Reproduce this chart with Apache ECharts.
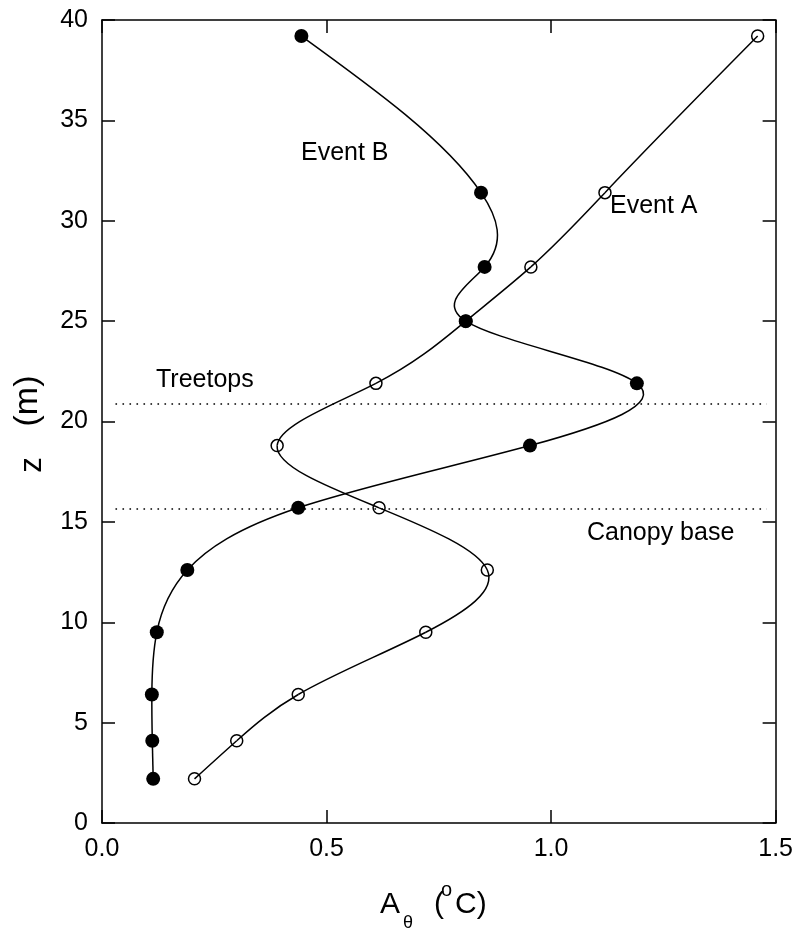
<!DOCTYPE html>
<html>
<head>
<meta charset="utf-8">
<script src="https://cdn.jsdelivr.net/npm/echarts@6/dist/echarts.min.js"></script>
<style>
  html, body { margin: 0; padding: 0; background: #fff; }
  #main { width: 796px; height: 931px; }
</style>
</head>
<body>
<div id="main"></div>
<script>
  // heights of the measurement levels (m)
  var heights = [39.2, 31.4, 27.7, 25.0, 21.9, 18.8, 15.7, 12.6, 9.5, 6.4, 4.1, 2.2];
  // amplitude A_theta (oC) for each event
  var eventA = [1.46, 1.12, 0.955, 0.81, 0.61, 0.39, 0.617, 0.858, 0.721, 0.437, 0.300, 0.206];
  var eventB = [0.444, 0.844, 0.852, 0.81, 1.191, 0.953, 0.437, 0.190, 0.122, 0.111, 0.112, 0.114];
  // dotted reference levels
  var treetops = 20.9;
  var canopyBase = 15.65;
  var xTicks = [0, 0.5, 1.0, 1.5];
  var yTicks = [0, 5, 10, 15, 20, 25, 30, 35, 40];

  function pairs(xs) {
    var out = [];
    for (var i = 0; i < xs.length; i++) out.push([xs[i], heights[i]]);
    return out;
  }

  // slopes dx/dz of a natural cubic spline x(z) through the points
  function naturalSlopes(xs, zs) {
    var n = xs.length, h = [], d = [], i;
    for (i = 0; i < n - 1; i++) {
      h[i] = zs[i + 1] - zs[i];
      d[i] = (xs[i + 1] - xs[i]) / h[i];
    }
    var a = [], b = [], c = [], r = [];
    for (i = 1; i < n - 1; i++) {
      a.push(h[i - 1]); b.push(2 * (h[i - 1] + h[i])); c.push(h[i]);
      r.push(6 * (d[i] - d[i - 1]));
    }
    var m = b.length;
    for (i = 1; i < m; i++) {
      var w = a[i] / b[i - 1];
      b[i] -= w * c[i - 1];
      r[i] -= w * r[i - 1];
    }
    var sol = [];
    sol[m - 1] = r[m - 1] / b[m - 1];
    for (i = m - 2; i >= 0; i--) sol[i] = (r[i] - c[i] * sol[i + 1]) / b[i];
    var M = [0].concat(sol).concat([0]);
    var s = [];
    for (i = 0; i < n - 1; i++) s[i] = d[i] - h[i] * (2 * M[i] + M[i + 1]) / 6;
    s[n - 1] = d[n - 2] + h[n - 2] * (M[n - 2] + 2 * M[n - 1]) / 6;
    return s;
  }

  // each data item draws the spline piece from itself to the next point
  function curveRenderer(xs) {
    var slopes = naturalSlopes(xs, heights);
    return function (params, api) {
      var i = params.dataIndex;
      if (i >= xs.length - 1) return { type: 'group', children: [] };
      var h = heights[i + 1] - heights[i];
      var p0 = api.coord([xs[i], heights[i]]);
      var p1 = api.coord([xs[i] + slopes[i] * h / 3, heights[i] + h / 3]);
      var p2 = api.coord([xs[i + 1] - slopes[i + 1] * h / 3, heights[i + 1] - h / 3]);
      var p3 = api.coord([xs[i + 1], heights[i + 1]]);
      return {
        type: 'bezierCurve',
        shape: { x1: p0[0], y1: p0[1], cpx1: p1[0], cpy1: p1[1], cpx2: p2[0], cpy2: p2[1], x2: p3[0], y2: p3[1] },
        style: { stroke: '#000', lineWidth: 1.5, fill: null }
      };
    };
  }

  var font = 'Liberation Sans, Arial, sans-serif';
  var black = '#000';

  var chart = echarts.init(document.getElementById('main'));

  var axisCommon = {
    axisLine: { show: true, onZero: false, lineStyle: { color: black, width: 1.5 } },
    axisTick: { show: true, inside: true, length: 13, lineStyle: { color: black, width: 1.5 } },
    splitLine: { show: false }
  };

  function levelLine(z) {
    return [{ coord: [0.03, z] }, { coord: [1.48, z] }];
  }

  var option = {
    backgroundColor: '#fff',
    animation: false,
    grid: { left: 102, right: 20, top: 20, bottom: 108 },
    xAxis: [
      Object.assign({
        type: 'value', position: 'bottom',
        min: xTicks[0], max: xTicks[xTicks.length - 1], interval: 0.5,
        axisLabel: {
          color: black, fontSize: 25, fontFamily: font, margin: 14,
          formatter: function (v) { return v.toFixed(1); }
        }
      }, axisCommon),
      Object.assign({
        type: 'value', position: 'top',
        min: xTicks[0], max: xTicks[xTicks.length - 1], interval: 0.5,
        axisLabel: { show: false }
      }, axisCommon)
    ],
    yAxis: [
      Object.assign({
        type: 'value', position: 'left',
        min: yTicks[0], max: yTicks[yTicks.length - 1], interval: 5,
        axisLabel: { color: black, fontSize: 25, fontFamily: font, margin: 14 }
      }, axisCommon),
      Object.assign({
        type: 'value', position: 'right',
        min: yTicks[0], max: yTicks[yTicks.length - 1], interval: 5,
        axisLabel: { show: false }
      }, axisCommon)
    ],
    series: [
      {
        name: 'levels',
        type: 'line',
        data: [],
        markLine: {
          silent: true,
          symbol: 'none',
          label: { show: false },
          lineStyle: { color: black, width: 1.6, type: [1.6, 5.4] },
          data: [levelLine(treetops), levelLine(canopyBase)]
        }
      },
      {
        name: 'Event A curve',
        type: 'custom',
        data: pairs(eventA),
        encode: { x: 0, y: 1 },
        renderItem: curveRenderer(eventA),
        silent: true,
        z: 2
      },
      {
        name: 'Event B curve',
        type: 'custom',
        data: pairs(eventB),
        encode: { x: 0, y: 1 },
        renderItem: curveRenderer(eventB),
        silent: true,
        z: 2
      },
      {
        name: 'Event A',
        type: 'scatter',
        data: pairs(eventA),
        symbol: 'circle',
        symbolSize: 12,
        itemStyle: { color: 'rgba(0,0,0,0)', borderColor: black, borderWidth: 1.5, opacity: 1 },
        z: 3
      },
      {
        name: 'Event B',
        type: 'scatter',
        data: pairs(eventB),
        symbol: 'circle',
        symbolSize: 14,
        itemStyle: { color: black, borderWidth: 0, opacity: 1 },
        z: 4
      }
    ],
    graphic: [
      { type: 'text', left: 301, top: 141, style: { text: 'Event B', fontSize: 25, fontFamily: font, fill: black } },
      { type: 'text', left: 610, top: 194, style: { text: 'Event A', fontSize: 25, fontFamily: font, fill: black } },
      { type: 'text', left: 156, top: 368, style: { text: 'Treetops', fontSize: 25, fontFamily: font, fill: black } },
      { type: 'text', left: 587, top: 521, style: { text: 'Canopy base', fontSize: 25, fontFamily: font, fill: black } },
      // x axis title: A_theta (oC)
      { type: 'text', left: 380, top: 890, style: { text: 'A', fontSize: 30, fontFamily: font, fill: black } },
      { type: 'text', left: 403, top: 914, style: { text: 'θ', fontSize: 18, fontFamily: font, fill: black } },
      { type: 'text', left: 434, top: 890, style: { text: '(', fontSize: 30, fontFamily: font, fill: black } },
      { type: 'text', left: 441, top: 880, style: { text: 'o', fontSize: 20, fontFamily: font, fill: black } },
      { type: 'text', left: 455, top: 890, style: { text: 'C)', fontSize: 30, fontFamily: font, fill: black } },
      // y axis title: z (m), rotated
      { type: 'text', x: 32, y: 465, rotation: Math.PI / 2, style: { text: 'z', fontSize: 31, fontFamily: font, fill: black, align: 'center', verticalAlign: 'middle' } },
      { type: 'text', x: 28, y: 401, rotation: Math.PI / 2, style: { text: '(m)', fontSize: 34, fontFamily: font, fill: black, align: 'center', verticalAlign: 'middle' } }
    ]
  };

  chart.setOption(option);
</script>
</body>
</html>
